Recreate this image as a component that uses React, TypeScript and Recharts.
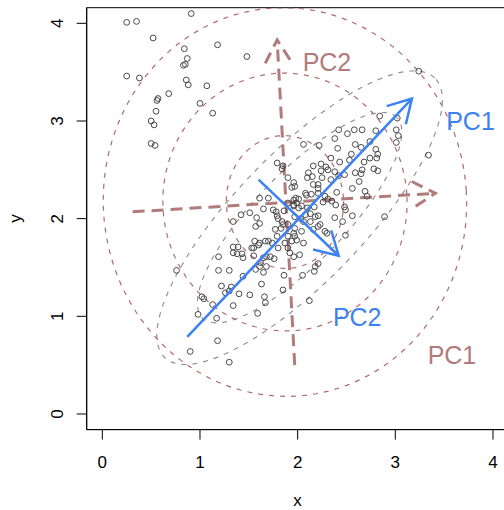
import { ScatterChart, Scatter, XAxis, YAxis, ReferenceArea } from "recharts";

const DOMAIN: [number, number] = [-0.16, 4.16];
const TICKS = [0, 1, 2, 3, 4];

const BROWN = "#b07b7b";
const BROWN_LINE = "#b06b6b";
const BLUE = "#3d82f3";
const GREY = "#8e8e8e";
const INK = "#4a4a4a";
const FONT = "'Liberation Sans', Arial, Helvetica, sans-serif";

const pointX = [
  0.25, 0.35, 0.91, 0.52, 1.18, 0.84, 0.87, 0.85, 0.83, 1.48, 0.25, 0.38, 0.86, 0.88, 1.07, 0.68, 0.57, 0.56, 1.0, 1.13,
  0.55, 0.5, 0.53, 0.5, 0.54,
  1.79, 1.84, 1.9, 1.96, 1.94, 1.97, 1.61, 1.7, 1.98, 1.96, 1.65, 1.75, 1.78, 1.86, 1.51, 1.42, 1.58, 1.79, 1.8, 1.34,
  1.61, 1.84, 1.85, 1.96, 1.99, 1.57,
  2.84, 3.02, 3.01, 3.03, 3.01, 2.42, 2.51, 2.58, 2.66, 2.8, 2.38, 2.22, 2.06, 2.41, 2.59, 2.65, 2.74, 2.8, 2.82, 2.81,
  2.74, 2.68, 2.55, 2.53, 2.34, 2.43, 2.16, 2.24, 2.29, 2.31, 2.24, 2.38, 2.48, 2.11, 2.1, 2.15, 2.34, 2.42, 2.59, 2.66,
  2.65, 2.78, 2.82, 2.63, 2.21, 2.16, 2.21, 2.56, 2.4, 2.69, 2.71, 2.08, 2.09, 2.14, 2.31, 2.26, 2.01, 2.04, 2.1, 2.17,
  2.39, 2.48, 2.49, 2.08, 2.13, 2.21, 2.18, 2.03, 2.13, 2.23, 2.56, 2.46, 2.89, 3.34, 3.24,
  1.85, 2.25, 2.21, 2.28, 1.9, 1.96, 1.83, 2.01, 1.97, 2.06, 1.9, 1.97, 1.96, 2.04, 2.16, 2.21, 2.28, 2.3, 2.38, 2.35,
  1.67, 1.61, 1.56, 1.79, 1.87, 1.94, 1.97, 2.06, 1.92, 2.02, 2.18, 2.21, 1.8, 1.68, 1.53,
  1.77, 1.7, 1.55, 1.6, 1.74, 1.9, 1.9, 1.96, 1.34, 1.39, 1.34, 1.38, 1.43, 1.44, 1.55, 1.76, 1.62, 1.61, 1.68, 1.57,
  1.65, 1.19, 1.19, 1.3, 1.44, 1.86, 1.63, 1.22, 1.32, 1.3, 1.26, 1.4, 1.51, 1.85, 1.66, 1.67, 1.02, 1.04, 1.13, 1.34,
  1.59, 0.98, 1.17, 0.76, 1.18, 0.9, 1.3,
  2.49, 2.05, 2.17, 2.12, 1.99, 1.65, 1.72,
];
const pointY = [
  4.01, 4.02, 4.1, 3.85, 3.78, 3.74, 3.64, 3.58, 3.57, 3.66, 3.46, 3.44, 3.42, 3.37, 3.36, 3.28, 3.23, 3.21, 3.18, 3.08,
  3.1, 3.0, 2.96, 2.77, 2.75,
  2.57, 2.51, 2.42, 2.37, 2.32, 2.33, 2.21, 2.21, 2.21, 2.19, 2.1, 2.09, 2.07, 2.08, 2.06, 2.04, 2.01, 2.03, 2.0, 1.97,
  1.95, 1.97, 1.94, 2.13, 2.16, 1.92,
  3.05, 3.03, 2.91, 2.85, 2.78, 2.91, 2.87, 2.91, 2.91, 2.9, 2.82, 2.75, 2.76, 2.72, 2.76, 2.73, 2.79, 2.71, 2.66, 2.62,
  2.62, 2.58, 2.66, 2.6, 2.62, 2.58, 2.54, 2.56, 2.53, 2.5, 2.49, 2.48, 2.45, 2.47, 2.42, 2.43, 2.4, 2.44, 2.47, 2.5,
  2.46, 2.51, 2.49, 2.38, 2.35, 2.35, 2.31, 2.31, 2.27, 2.28, 2.23, 2.26, 2.24, 2.25, 2.2, 2.17, 2.2, 2.13, 2.11, 2.12,
  2.14, 2.12, 2.09, 2.04, 2.05, 2.03, 2.02, 2.0, 1.97, 1.94, 2.03, 1.97, 2.02, 2.65, 3.51,
  2.54, 2.42, 2.26, 2.23, 2.16, 2.14, 1.9, 2.11, 2.02, 1.97, 1.94, 1.9, 1.85, 1.87, 1.89, 1.92, 1.87, 1.85, 2.01, 2.18,
  1.77, 1.75, 1.77, 1.82, 1.75, 1.77, 1.82, 1.75, 1.65, 1.63, 1.51, 1.54, 1.7, 1.61, 1.7,
  1.89, 1.77, 1.7, 1.73, 1.75, 1.82, 1.7, 1.61, 1.71, 1.71, 1.65, 1.64, 1.64, 1.6, 1.62, 1.59, 1.55, 1.51, 1.51, 1.48,
  1.45, 1.61, 1.47, 1.47, 1.41, 1.42, 1.33, 1.31, 1.3, 1.26, 1.24, 1.23, 1.22, 1.27, 1.2, 1.14, 1.2, 1.18, 1.12, 1.11,
  1.03, 1.02, 0.98, 1.47, 0.75, 0.64, 0.53,
  1.83, 1.42, 1.46, 1.16, 1.78, 1.6, 1.61,
];

// grey ellipses (clean data): centre, tilt, semi-axes
const greyCenter = [2.02, 2.01];
const greyTilt = 46;
const greyA = [1.43, 1.99];
const greyB = [0.46, 0.66];

// brown ellipses (contaminated data)
const brownCenter = [1.87, 2.17];
const brownTilt = 3.6;
const brownA = [0.6, 1.25, 1.86];
const brownB = [0.68, 1.32, 1.99];

// principal component arrows
const blueFrom = [[0.87, 0.79], [1.6, 2.4]];
const blueTo = [[3.17, 3.23], [2.42, 1.62]];
const brownFrom = [[0.31, 2.07], [1.97, 0.5]];
const brownTo = [[3.41, 2.26], [1.79, 3.83]];

const labelText = ["PC1", "PC2", "PC2", "PC1"];
const labelX = [3.77, 2.61, 2.3, 3.58];
const labelY = [3.0, 0.99, 3.6, 0.6];
const labelColor = [BLUE, BLUE, BROWN, BROWN];

const points = pointX.map((x, i) => ({ x, y: pointY[i] }));

function ellipse(c: number[], a: number, b: number, tilt: number) {
  const t = (tilt * Math.PI) / 180;
  const out = [];
  for (let i = 0; i <= 180; i++) {
    const u = (i / 180) * Math.PI * 2;
    const ex = a * Math.cos(u);
    const ey = b * Math.sin(u);
    out.push({ x: c[0] + ex * Math.cos(t) - ey * Math.sin(t), y: c[1] + ex * Math.sin(t) + ey * Math.cos(t) });
  }
  return out;
}

function head(from: number[], to: number[], len = 0.27, spread = 30) {
  const ang = Math.atan2(to[1] - from[1], to[0] - from[0]);
  const s = (spread * Math.PI) / 180;
  return [
    { x: to[0] - len * Math.cos(ang - s), y: to[1] - len * Math.sin(ang - s) },
    { x: to[0], y: to[1] },
    { x: to[0] - len * Math.cos(ang + s), y: to[1] - len * Math.sin(ang + s) },
  ];
}

const noDot = () => <g />;

const XTick = ({ x, y, payload }: any) => (
  <text x={x} y={y + 28} textAnchor="middle" fontSize={17} fontFamily={FONT} fill="#000">
    {payload.value}
  </text>
);

const YTick = ({ x, y, payload }: any) => {
  const bx = x - 13.4;
  return (
    <text x={bx} y={y} transform={`rotate(-90 ${bx} ${y})`} textAnchor="middle" fontSize={17} fontFamily={FONT} fill="#000">
      {payload.value}
    </text>
  );
};

export default function App() {
  const lineSeries: any[] = [];
  greyA.forEach((a, i) =>
    lineSeries.push({ data: ellipse(greyCenter, a, greyB[i], greyTilt), stroke: GREY, width: 1.15, dash: "5 6" })
  );
  brownA.forEach((a, i) =>
    lineSeries.push({ data: ellipse(brownCenter, a, brownB[i], brownTilt), stroke: BROWN_LINE, width: 1.2, dash: "5 6" })
  );
  brownFrom.forEach((f, i) => {
    const to = brownTo[i];
    lineSeries.push({ data: [{ x: f[0], y: f[1] }, { x: to[0], y: to[1] }], stroke: BROWN, width: 3, dash: "12 7" });
    lineSeries.push({ data: head(f, to), stroke: BROWN, width: 3, dash: "12 7" });
  });

  const blueSeries: any[] = [];
  blueFrom.forEach((f, i) => {
    const to = blueTo[i];
    blueSeries.push([{ x: f[0], y: f[1] }, { x: to[0], y: to[1] }]);
    blueSeries.push(head(f, to));
  });

  return (
    <div style={{ width: 504, height: 510, overflow: "hidden", position: "relative", background: "#fff" }}>
      <style>{`body{margin:0}`}</style>
      <ScatterChart width={520} height={510} margin={{ top: 7.7, right: 11.4, bottom: 20.4, left: 6.7 }}>
        <XAxis
          type="number"
          dataKey="x"
          domain={DOMAIN}
          ticks={TICKS}
          allowDataOverflow
          height={60}
          tickSize={10}
          tickMargin={0}
          tick={<XTick />}
          stroke="#000"
          label={(p: any) => (
            <text x={297.6} y={506} textAnchor="middle" fontSize={17} fontFamily={FONT} fill="#000">
              x
            </text>
          )}
        />
        <YAxis
          type="number"
          dataKey="y"
          domain={DOMAIN}
          ticks={TICKS}
          allowDataOverflow
          width={80}
          tickSize={10}
          tickMargin={0}
          tick={<YTick />}
          stroke="#000"
          label={(p: any) => (
            <text x={21} y={218.6} transform="rotate(-90 21 218.6)" textAnchor="middle" fontSize={17} fontFamily={FONT} fill="#000">
              y
            </text>
          )}
        />
        {lineSeries.map((s, i) => (
          <Scatter
            key={"l" + i}
            data={s.data}
            fill={s.stroke}
            line={{ stroke: s.stroke, strokeWidth: s.width, strokeDasharray: s.dash }}
            shape={noDot}
            isAnimationActive={false}
          />
        ))}
        <Scatter
          data={points}
          isAnimationActive={false}
          shape={(p: any) => <circle cx={p.cx} cy={p.cy} r={2.9} fill="none" stroke={INK} strokeWidth={1} />}
        />
        {blueSeries.map((d, i) => (
          <Scatter
            key={"b" + i}
            data={d}
            fill={BLUE}
            line={{ stroke: BLUE, strokeWidth: 2.5 }}
            shape={noDot}
            isAnimationActive={false}
          />
        ))}
        {labelText.map((t, i) => (
          <Scatter
            key={"t" + i}
            data={[{ x: labelX[i], y: labelY[i] }]}
            isAnimationActive={false}
            shape={(p: any) => (
              <text x={p.cx} y={p.cy} dy="0.36em" textAnchor="middle" fontSize={25} fontFamily={FONT} fill={labelColor[i]}>
                {t}
              </text>
            )}
          />
        ))}
        <ReferenceArea
          x1={DOMAIN[0]}
          x2={DOMAIN[1]}
          y1={DOMAIN[0]}
          y2={DOMAIN[1]}
          fill="none"
          stroke="#000"
          strokeWidth={1}
          ifOverflow="visible"
        />
      </ScatterChart>
    </div>
  );
}
